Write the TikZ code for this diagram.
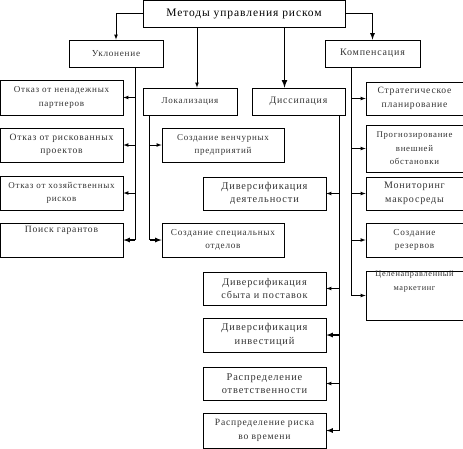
\documentclass[tikz,border=0pt]{standalone}
\usepackage{fontspec}
\setmainfont[LetterSpace=8]{Liberation Serif}
\usepackage{tikz}

\begin{document}
\begin{tikzpicture}[x=1pt, y=-1pt,
  blk/.style={draw, line width=0.8pt, inner sep=0pt, align=center, text=black!80,
    font=\fontsize{9}{13.5}\selectfont},
  fs/.style={font=\fontsize{#1}{13.5}\selectfont},
  arr/.style={line width=0.7pt, -latex},
  lin/.style={line width=0.7pt}]
  \useasboundingbox (0,0) rectangle (463,448);
  \node[blk, minimum width=202pt, minimum height=27pt, fs=11.5, text=black] (top) at (244,13.5) {Методы управления риском};
  \node[blk, minimum width=94pt, minimum height=27pt, fs=9.2] (ukl) at (116,53.5) {Уклонение};
  \node[blk, minimum width=95pt, minimum height=27pt, fs=10] (komp) at (372.5,53.5) {Компенсация};
  \node[blk, minimum width=94pt, minimum height=27pt, fs=9] (lok) at (190,101.5) {Локализация};
  \node[blk, minimum width=93pt, minimum height=27pt, fs=9.8] (dis) at (298.5,101.5) {Диссипация};

  % уклонение
  \node[blk, minimum width=123pt, minimum height=35pt, fs=9.1] (u1) at (61.5,97.5) {Отказ от ненадежных\\партнеров};
  \node[blk, minimum width=123pt, minimum height=34pt, fs=9.6] (u2) at (61.5,145) {Отказ от рискованных\\проектов};
  \node[blk, minimum width=123pt, minimum height=34pt, fs=9] (u3) at (61.5,193) {Отказ от хозяйственных\\рисков};
  \node[blk, minimum width=123pt, minimum height=34pt, fs=9.6] (u4) at (61.5,240) {Поиск гарантов\\[8pt]};

  % локализация
  \node[blk, minimum width=122pt, minimum height=34pt, fs=9] (l1) at (223,145) {Создание венчурных\\предприятий};
  \node[blk, minimum width=122pt, minimum height=34pt, fs=9.2] (l2) at (223,240) {Создание специальных\\отделов};

  % диссипация
  \node[blk, minimum width=123pt, minimum height=33pt, fs=10.4] (d1) at (264.5,193.5) {Диверсификация\\деятельности};
  \node[blk, minimum width=123pt, minimum height=33pt, fs=10.2] (d2) at (264.5,288.5) {Диверсификация\\сбыта и поставок};
  \node[blk, minimum width=123pt, minimum height=34pt, fs=10.4] (d3) at (264.5,335) {Диверсификация\\инвестиций};
  \node[blk, minimum width=123pt, minimum height=33pt, fs=10.4] (d4) at (264.5,383.5) {Распределение\\ответственности};
  \node[blk, minimum width=123pt, minimum height=35pt, fs=9.6] (d5) at (264.5,430.5) {Распределение риска\\во времени};

  % компенсация
  \node[blk, minimum width=97pt, minimum height=33pt, fs=9.6] (k1) at (414.5,98.5) {Стратегическое\\планирование};
  \node[blk, minimum width=97pt, minimum height=47pt, fs=8.8] (k2) at (414.5,148.5) {Прогнозирование\\внешней\\обстановки};
  \node[blk, minimum width=97pt, minimum height=33pt, fs=10] (k3) at (414.5,193.5) {Мониторинг\\макросреды};
  \node[blk, minimum width=97pt, minimum height=34pt, fs=9.2] (k4) at (414.5,240) {Создание\\резервов};
  \node[blk, minimum width=97pt, minimum height=49pt, fs=8.3] (k5) at (414.5,295.5) {Целенаправленный\\маркетинг\\[16pt]};

  % from the top box
  \coordinate (la) at ([xshift=7pt]lok.north);
  \coordinate (da) at ([xshift=-14pt]dis.north);
  \draw[arr] (top.west) -| (ukl.north);
  \draw[arr, line width=1.2pt] (top.east) -| (komp.north);
  \draw[arr] (top.south -| la) -- (la);
  \draw[arr, line width=1.6pt] (top.south -| da) -- (da);

  % spines
  \coordinate (us) at ([xshift=19pt]ukl.south);
  \coordinate (ls) at ([xshift=7pt]lok.south west);
  \coordinate (ds) at ([xshift=-6pt]dis.south east);
  \coordinate (ks) at ([xshift=27pt]komp.south west);
  \draw[lin] (us) -- (us |- u4.east);
  \draw[lin] (ls) -- (ls |- l2.west);
  \draw[lin] (ds) -- (ds |- d5.east);
  \draw[lin] (ks) -- (ks |- k5.west);
  \foreach \n in {u1,u2,u3} \draw[arr] (us |- \n.east) -- (\n.east);
  \draw[arr, line width=1.2pt] (us |- u4.east) -- (u4.east);
  \draw[arr] (ls |- l1.west) -- (l1.west);
  \draw[arr, line width=1.2pt] (ls |- l2.west) -- (l2.west);
  \foreach \n in {d1,d2,d4} \draw[arr] (ds |- \n.east) -- (\n.east);
  \foreach \n in {d3,d5} \draw[arr, line width=1.2pt] (ds |- \n.east) -- (\n.east);
  \foreach \n in {k1,k2,k3,k4,k5} \draw[arr] (ks |- \n.west) -- (\n.west);
\end{tikzpicture}
\end{document}
